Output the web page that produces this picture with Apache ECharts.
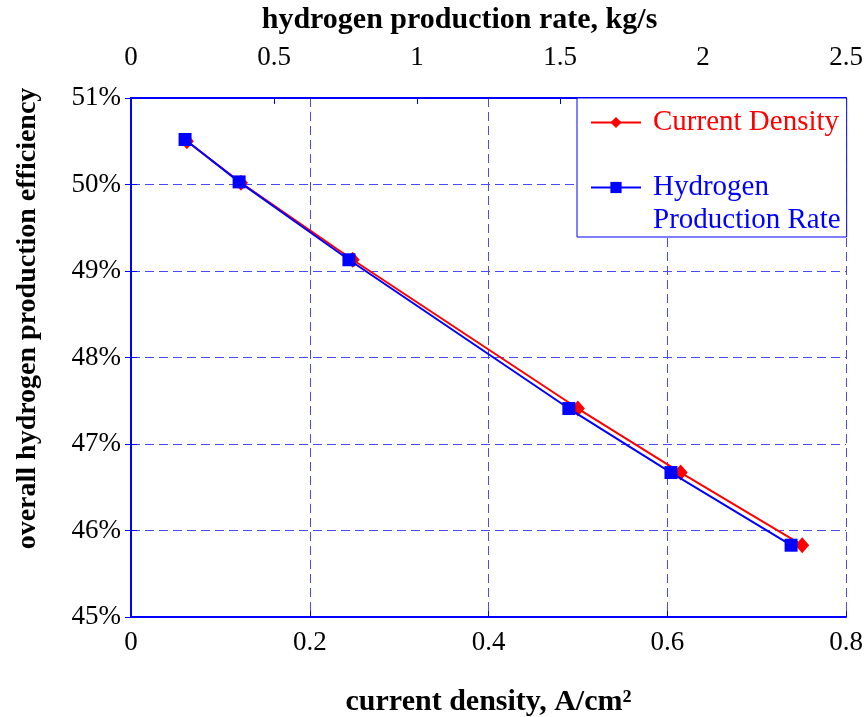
<!DOCTYPE html>
<html>
<head>
<meta charset="utf-8">
<script src="https://cdn.jsdelivr.net/npm/echarts@6/dist/echarts.min.js"></script>
<style>html,body{margin:0;padding:0;background:#fff;}#c{width:867px;height:717px;}</style>
</head>
<body>
<div id="c"></div>
<script>
// Data
const currentDensity = [0.0625, 0.123, 0.248, 0.500, 0.615, 0.751];      // A/cm2 (bottom axis)
const efficiencyCD   = [50.50, 50.02, 49.13, 47.41, 46.67, 45.83];      // %
const hydrogenRate   = [0.189, 0.378, 0.762, 1.531, 1.888, 2.308];      // kg/s (top axis)
const efficiencyHR   = [50.52, 50.03, 49.13, 47.41, 46.67, 45.83];      // %
const seriesNames = ['Current Density', 'Hydrogen Production Rate'];
const yRange = [45, 51];
const bottomRange = [0, 0.8];
const topRange = [0, 2.5];

const FONT = '"Liberation Serif", "Times New Roman", serif';
const BLUE = '#0000ff';
const RED = '#ff0000';
const GRID_COLOR = '#4a4aff';

const chart = echarts.init(document.getElementById('c'), null, {renderer: 'canvas'});
chart.setOption({
  animation: false,
  backgroundColor: '#fff',
  grid: {left: 131, right: 21, top: 98, bottom: 100, containLabel: false, outerBoundsMode: 'none'},
  legend: {
    orient: 'vertical',
    left: 577, top: 98,
    padding: [8, 6, 0, 13],
    itemGap: -1,
    itemWidth: 50, itemHeight: 14,
    backgroundColor: '#fff',
    borderColor: BLUE, borderWidth: 1,
    data: [
      {name: seriesNames[0], textStyle: {color: RED, padding: [0, 0, 0, 7]}},
      {name: seriesNames[1], textStyle: {color: BLUE, padding: [0, 0, 0, 7]}}
    ],
    formatter: function (n) { return n === seriesNames[1] ? '\u00a0\nHydrogen\nProduction Rate' : n; },
    textStyle: {fontFamily: FONT, fontSize: 29, lineHeight: 33}
  },
  xAxis: [
    {
      type: 'value', position: 'bottom', min: bottomRange[0], max: bottomRange[1], interval: 0.2,
      name: 'current density, A/cm²', nameLocation: 'middle', nameGap: 70,
      nameTextStyle: {fontFamily: FONT, fontSize: 30, fontWeight: 'bold', color: '#000'},
      axisLine: {show: true, lineStyle: {color: BLUE, width: 2}},
      axisTick: {show: true, inside: true, length: 6, lineStyle: {color: BLUE, width: 1}},
      axisLabel: {fontFamily: FONT, fontSize: 27, color: '#000', margin: 12,
        formatter: function (v) { return String(+v.toFixed(1)); }},
      splitLine: {show: true, lineStyle: {color: GRID_COLOR, type: [9, 5], width: 1}}
    },
    {
      type: 'value', position: 'top', min: topRange[0], max: topRange[1], interval: 0.5,
      name: 'hydrogen production rate, kg/s', nameLocation: 'middle', nameGap: 63,
      nameTextStyle: {fontFamily: FONT, fontSize: 30, fontWeight: 'bold', color: '#000', padding: [0, 58, 0, 0]},
      axisLine: {show: true, lineStyle: {color: BLUE, width: 2}},
      axisTick: {show: true, inside: true, length: 6, lineStyle: {color: BLUE, width: 1}},
      axisLabel: {fontFamily: FONT, fontSize: 27, color: '#000', margin: 27},
      splitLine: {show: false}
    }
  ],
  yAxis: [
    {
      type: 'value', position: 'left', min: yRange[0], max: yRange[1], interval: 1,
      name: 'overall hydrogen production efficiency', nameLocation: 'middle', nameGap: 89, nameRotate: 90,
      nameTextStyle: {fontFamily: FONT, fontSize: 28, fontWeight: 'bold', color: '#000', padding: [0, 0, 0, 78]},
      axisLine: {show: true, lineStyle: {color: BLUE, width: 2}},
      axisTick: {show: true, inside: true, length: 6, lineStyle: {color: BLUE, width: 1}},
      axisLabel: {fontFamily: FONT, fontSize: 27, color: '#000', margin: 10, formatter: '{value}%'},
      splitLine: {show: true, lineStyle: {color: GRID_COLOR, type: [9, 5], width: 1}}
    },
    {
      type: 'value', position: 'right', min: yRange[0], max: yRange[1], interval: 1,
      axisLine: {show: true, lineStyle: {color: BLUE, width: 2}},
      axisTick: {show: true, inside: true, length: 6, lineStyle: {color: BLUE, width: 1}},
      axisLabel: {show: false},
      splitLine: {show: false}
    }
  ],
  series: [
    {
      name: seriesNames[0], type: 'line', xAxisIndex: 0, yAxisIndex: 0,
      data: currentDensity.map((x, i) => [x, efficiencyCD[i]]),
      symbol: 'diamond', symbolSize: [14, 16], showAllSymbol: true,
      lineStyle: {color: RED, width: 2}, itemStyle: {color: RED}, z: 2
    },
    {
      name: seriesNames[1], type: 'line', xAxisIndex: 1, yAxisIndex: 0,
      data: hydrogenRate.map((x, i) => [x, efficiencyHR[i]]),
      symbol: 'rect', symbolSize: 13, showAllSymbol: true,
      lineStyle: {color: BLUE, width: 2}, itemStyle: {color: BLUE}, z: 3
    }
  ]
});
</script>
</body>
</html>
